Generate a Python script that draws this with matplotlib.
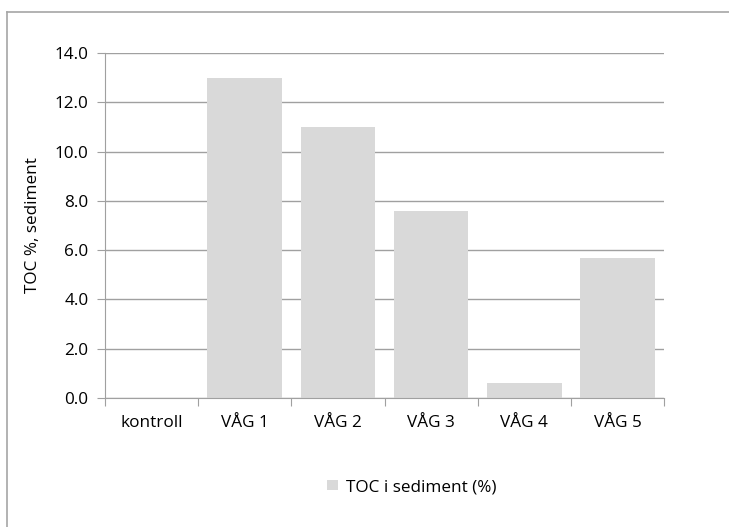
import numpy as np
import matplotlib.pyplot as plt
from matplotlib.lines import Line2D
from matplotlib.patches import Patch

categories = ["kontroll", "VÅG 1", "VÅG 2", "VÅG 3", "VÅG 4", "VÅG 5"]
toc = [0.0, 13.0, 11.0, 7.6, 0.6, 5.7]
yticks = [0, 2, 4, 6, 8, 10, 12, 14]

plt.rcParams["font.family"] = ["Open Sans", "DejaVu Sans"]
fs = 12.3

fig = plt.figure(figsize=(7.29, 5.27), dpi=100)
ax = fig.add_axes([105 / 729, 1 - 398 / 527, (664 - 105) / 729, (398 - 53) / 527])

x = np.arange(len(categories))
ax.bar(x, toc, width=0.8, color="#d9d9d9", zorder=2)

ax.set_xlim(-0.5, len(categories) - 0.5)
ax.set_ylim(0, 14)
ax.set_yticks(yticks)
ax.set_yticklabels([f"{v:.1f}" for v in yticks], fontsize=fs)
ax.yaxis.grid(True, color="#a0a0a0", lw=1.0, zorder=0)
ax.set_axisbelow(True)

ax.set_xticks(np.arange(len(categories) + 1) - 0.5)
ax.set_xticklabels([])
ax.set_xticks(x, minor=True)
ax.set_xticklabels(categories, minor=True, fontsize=fs)
ax.tick_params(axis="x", which="major", length=6, color="#a0a0a0", direction="out")
ax.tick_params(axis="x", which="minor", length=0, pad=12)
ax.tick_params(axis="y", length=6, color="#a0a0a0", pad=6)

for side in ["top", "right"]:
    ax.spines[side].set_visible(False)
ax.spines["left"].set_color("#a0a0a0")
ax.spines["bottom"].set_color("#a0a0a0")

ax.set_ylabel("TOC %, sediment", fontsize=fs, labelpad=10)

handle = Patch(facecolor="#d9d9d9", edgecolor="none")
fig.legend([handle], ["TOC i sediment (%)"], loc="center",
           bbox_to_anchor=(412 / 729, 1 - 487 / 527), frameon=False,
           fontsize=fs, handlelength=0.6, handleheight=0.6, handletextpad=0.5)

# chart frame (top and left edges visible)
fig.add_artist(Line2D([7 / 729, 1], [1 - 12 / 527, 1 - 12 / 527], color="#a6a6a6", lw=1.2))
fig.add_artist(Line2D([7 / 729, 7 / 729], [0, 1 - 12 / 527], color="#a6a6a6", lw=1.2))

fig.savefig("out.png", dpi=100)
